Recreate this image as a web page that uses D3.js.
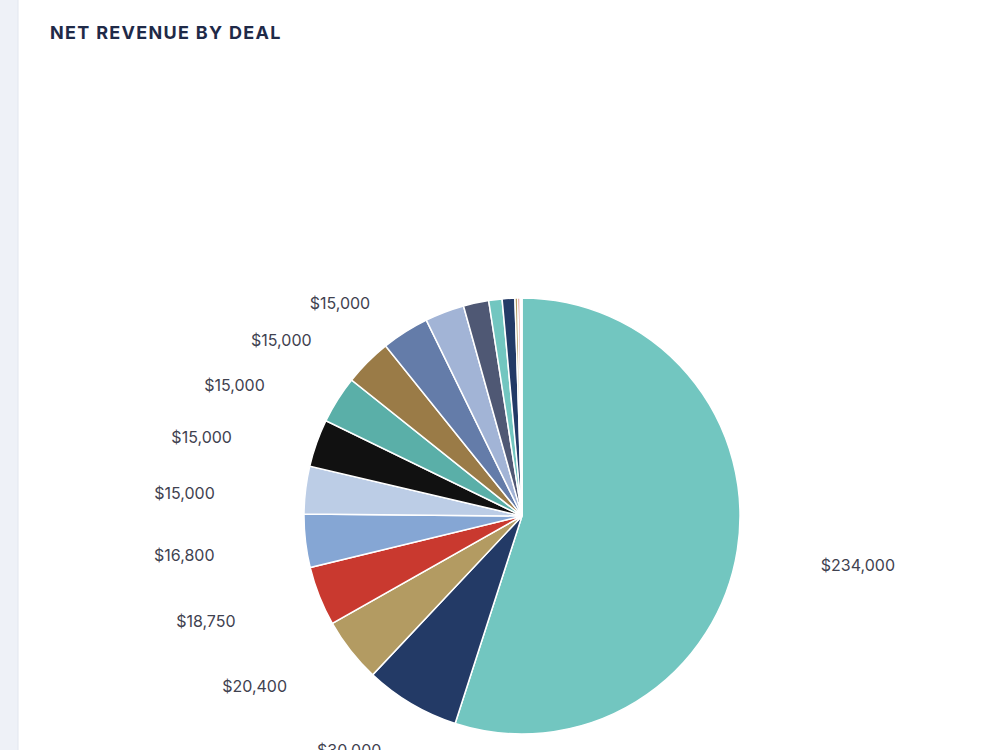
<!DOCTYPE html>
<html lang="en">
<head>
    <meta charset="UTF-8">
    <title>Net Revenue by Deal</title>
    <script src="https://d3js.org/d3.v7.min.js"></script>
    <style>
        body { margin: 0; background: #eef1f7; }
        svg { display: block; }
    </style>
</head>
<body>
    <svg id="chart"></svg>

    <script>
        // deal revenue, clockwise from 12 o'clock
        const deals = ["Deal 1", "Deal 2", "Deal 3", "Deal 4", "Deal 5", "Deal 6", "Deal 7", "Deal 8",
                       "Deal 9", "Deal 10", "Deal 11", "Deal 12", "Deal 13", "Deal 14", "Deal 15", "Deal 16",
                       "Deal 17", "Deal 18"];
        const revenue = [234000, 30000, 20400, 18750, 16800, 15000, 15000, 15000,
                         15000, 15000, 12400, 8000, 4200, 4000, 900, 700, 300, 300];
        const palette = ["#72c6c0", "#233a66", "#b39b62", "#c9392f", "#85a6d4", "#bccde6",
                         "#111111", "#5aafa8", "#9a7b47", "#647ca9", "#a2b4d6", "#4f5874"];

        const width = 1000;
        const height = 750;
        const cx = 522, cy = 516;
        const radius = 218;
        const clipTop = 291;

        const svg = d3.select("#chart")
            .attr("width", width)
            .attr("height", height);

        // card
        svg.append("rect")
            .attr("x", 18).attr("y", -12)
            .attr("width", 1000).attr("height", 800)
            .attr("rx", 12)
            .attr("fill", "#fff")
            .attr("stroke", "#e2e6ee");

        svg.append("text")
            .attr("x", 50).attr("y", 39)
            .text("NET REVENUE BY DEAL")
            .style("font-family", "Inter, 'Open Sans', sans-serif")
            .style("font-weight", 700)
            .style("font-size", "18px")
            .style("letter-spacing", "1.3px")
            .attr("fill", "#1f2a48");

        svg.append("clipPath").attr("id", "plot-clip")
            .append("rect")
            .attr("x", 18).attr("y", clipTop)
            .attr("width", 982).attr("height", 500);

        const data = deals.map((d, i) => ({ deal: d, value: revenue[i] }));

        const color = d3.scaleOrdinal()
            .domain(deals)
            .range(palette);

        const pie = d3.pie()
            .sort(null)
            .value(d => d.value);

        const arcs = pie(data);

        const arc = d3.arc()
            .innerRadius(0)
            .outerRadius(radius);

        const g = svg.append("g")
            .attr("clip-path", "url(#plot-clip)")
            .append("g")
            .attr("transform", `translate(${cx}, ${cy})`);

        g.selectAll("path")
            .data(arcs)
            .enter()
            .append("path")
            .attr("d", arc)
            .attr("fill", d => color(d.data.deal))
            .attr("stroke", "white")
            .style("stroke-width", "1.5px");

        // labels sit on an ellipse around the pie, a little below its centre
        const rx = 340, ry = 262, labelDrop = 9;
        const fmt = d3.format("$,");
        const mid = d => (d.startAngle + d.endAngle) / 2;
        const labelY = d => -Math.cos(mid(d)) * ry + labelDrop;

        // labels above the plot area are cut off in the chart
        g.selectAll("text")
            .data(arcs.filter(d => cy + labelY(d) > clipTop + 4))
            .enter()
            .append("text")
            .text(d => fmt(d.data.value))
            .attr("x", d => Math.sin(mid(d)) * rx)
            .attr("y", labelY)
            .attr("dy", "0.35em")
            .style("text-anchor", "middle")
            .style("font-family", "Inter, 'Open Sans', sans-serif")
            .style("font-size", "16px")
            .attr("fill", "#3f4250");
    </script>
</body>
</html>
